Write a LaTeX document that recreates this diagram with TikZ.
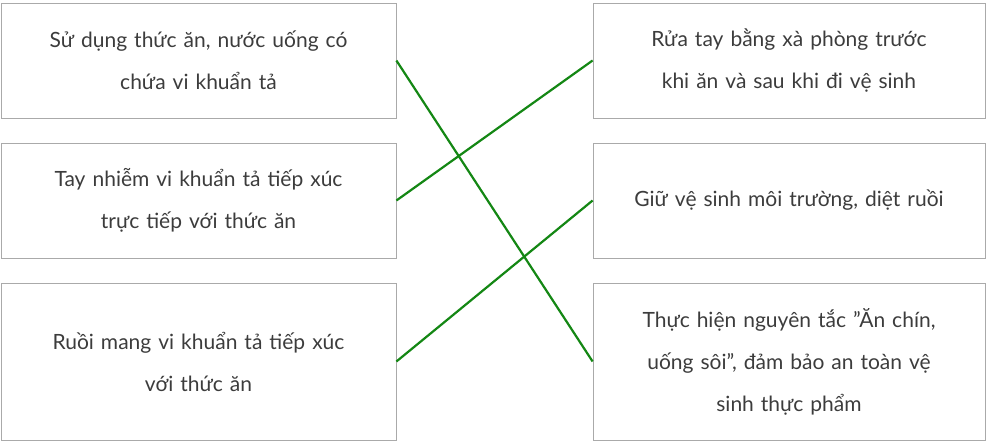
\documentclass[tikz,border=0pt]{standalone}
\usepackage{fontspec}
\setmainfont{Lato}
\definecolor{boxline}{RGB}{170,170,170}
\definecolor{txt}{RGB}{60,60,60}
\definecolor{linkgreen}{RGB}{20,135,20}
\begin{document}
\begin{tikzpicture}[x=1pt,y=-1pt,
    card/.style={draw=boxline,line width=0.8pt,minimum width=395pt,text width=380pt,
      align=center,text=txt,inner sep=0pt,font=\fontsize{21}{42}\selectfont},
    link/.style={draw=linkgreen,line width=2.2pt}]
    \useasboundingbox (0,0) rectangle (990,443);
    % left column
    \node [card,minimum height=115pt] (l1) at (198.5,60.5) {Sử dụng thức ăn, nước uống có\\chứa vi khuẩn tả};
    \node [card,minimum height=115pt] (l2) at (198.5,200.5) {Tay nhiễm vi khuẩn tả tiếp xúc\\trực tiếp với thức ăn};
    \node [card,minimum height=157pt] (l3) at (198.5,361.5) {Ruồi mang vi khuẩn tả tiếp xúc\\với thức ăn};
    % right column
    \node [card,minimum width=392pt,minimum height=115pt] (r1) at (789,60.5) {Rửa tay bằng xà phòng trước\\khi ăn và sau khi đi vệ sinh};
    \node [card,minimum width=392pt,minimum height=115pt] (r2) at (789,200.5) {Giữ vệ sinh môi trường, diệt ruồi};
    \node [card,minimum width=392pt,minimum height=157pt] (r3) at (789,361.5) {Thực hiện nguyên tắc \symbol{34}Ăn chín,\\uống sôi\symbol{34}, đảm bảo an toàn vệ\\sinh thực phẩm};
    % links
    \draw [link] (l1.east) -- (r3.west);
    \draw [link] (l2.east) -- (r1.west);
    \draw [link] (l3.east) -- (r2.west);
\end{tikzpicture}
\end{document}
